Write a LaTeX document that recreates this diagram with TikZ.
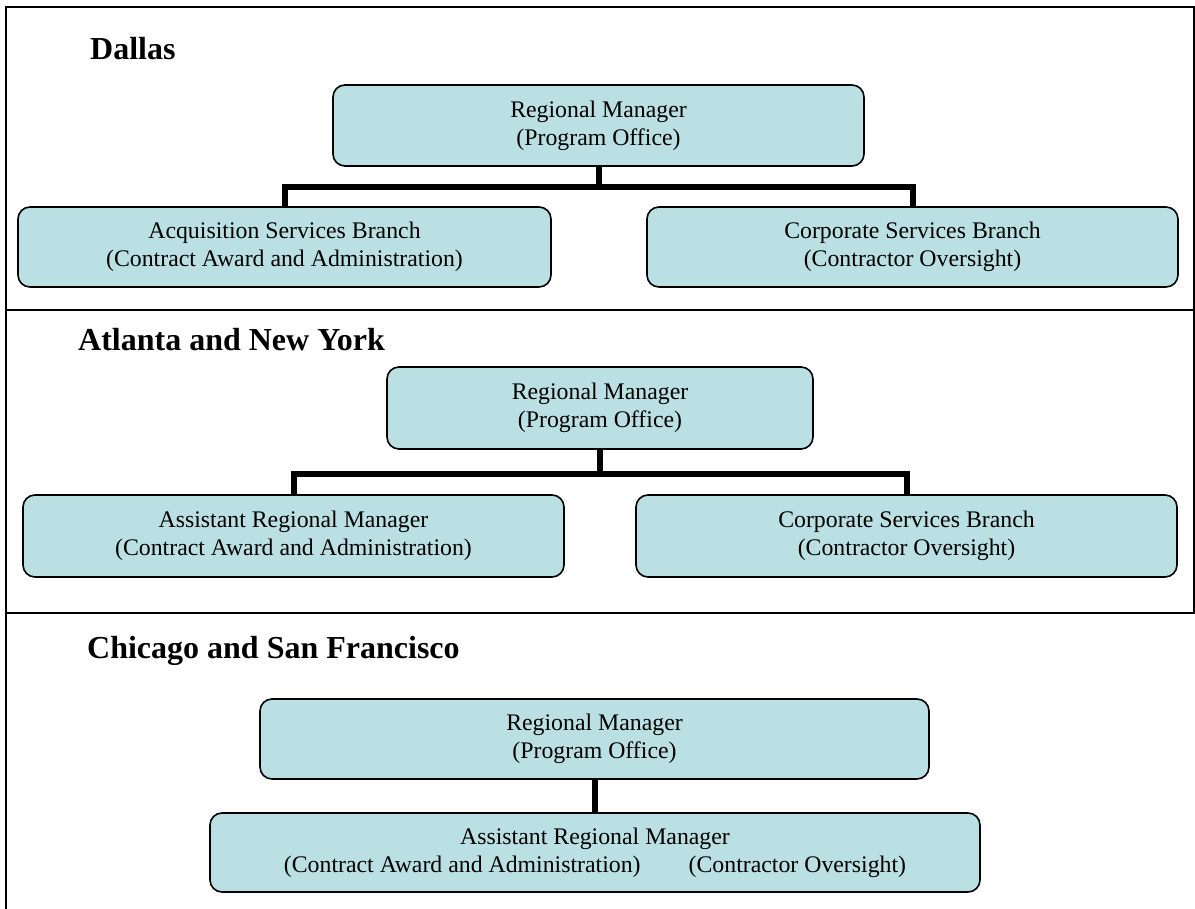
\documentclass[tikz,border=0pt]{standalone}
\usepackage{fontspec}
\setmainfont{Liberation Serif}
\definecolor{boxfill}{RGB}{187,224,227}
\begin{document}
\begin{tikzpicture}[x=1pt,y=-1pt,
  orgbox/.style={draw=black, line width=1.6pt, fill=boxfill, rounded corners=12pt,
    inner sep=0pt, align=center, font=\fontsize{23.8}{28}\selectfont},
  conn/.style={draw=black, line width=6pt, line join=miter},
  heading/.style={anchor=base west, inner sep=0pt, font=\fontsize{32}{36}\selectfont\bfseries},
  frame/.style={draw=black, line width=2pt}]
\useasboundingbox (0,0) rectangle (1195,909);
% frame and separators
\draw[frame] (6,909) -- (6,7) -- (1195,7);
\draw[frame] (1194,7) -- (1194,613);
\draw[frame] (6,310) -- (1195,310);
\draw[frame] (6,613) -- (1195,613);
% headings
\node[heading] (hd1) at (90,60) {Dallas};
\node[heading] (hd2) at (78,351) {Atlanta and New York};
\node[heading] (hd3) at (87,658) {Chicago and San Francisco};
% Dallas
\node[orgbox, minimum width=531pt, minimum height=81pt] (rm1) at (598.5,125.5) {Regional Manager\\(Program Office)};
\node[orgbox, minimum width=533pt, minimum height=80pt] (acq1) at (284.5,247) {Acquisition Services Branch\\(Contract Award and Administration)};
\node[orgbox, minimum width=531pt, minimum height=80pt] (cor1) at (912.5,247) {Corporate Services Branch\\(Contractor Oversight)};
\draw[conn] (rm1.south) -- ++(0,20) coordinate (j1);
\draw[conn] (acq1.north) |- (j1) -| (cor1.north);
% Atlanta and New York
\node[orgbox, minimum width=426pt, minimum height=82pt] (rm2) at (600,408) {Regional Manager\\(Program Office)};
\node[orgbox, minimum width=541pt, minimum height=82pt] (asst2) at (293.5,536) {Assistant Regional Manager\\(Contract Award and Administration)};
\node[orgbox, minimum width=541pt, minimum height=82pt] (cor2) at (906.5,536) {Corporate Services Branch\\(Contractor Oversight)};
\draw[conn] (rm2.south) -- ++(0,24) coordinate (j2);
\draw[conn] (asst2.north) |- (j2) -| (cor2.north);
% Chicago and San Francisco
\node[orgbox, minimum width=669pt, minimum height=80pt] (rm3) at (594.5,739) {Regional Manager\\(Program Office)};
\node[orgbox, minimum width=770pt, minimum height=79pt] (asst3) at (595,852.5) {Assistant Regional Manager\\(Contract Award and Administration)\hspace{48pt}(Contractor Oversight)};
\draw[conn] (rm3.south) -- (rm3.south |- asst3.north);
\end{tikzpicture}
\end{document}
